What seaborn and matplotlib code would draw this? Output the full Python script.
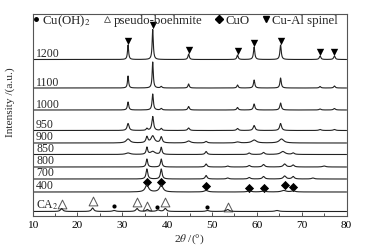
import numpy as np
import pandas as pd
import matplotlib
matplotlib.use("Agg")
import matplotlib.pyplot as plt
from matplotlib.lines import Line2D
import seaborn as sns

# ---- data (offsets / heights in arbitrary intensity units) ----
samples = ["CA$_2$", "400", "700", "800", "850", "900", "950", "1000", "1100", "1200"]
offsets = [4.5, 24, 37, 49, 61.5, 73, 85.5, 106, 128, 156.5]

# peak tables: (2theta, height, fwhm)
peaks = {
    "CA$_2$": [(16.5, 3, 0.6), (23.4, 3.5, 0.6), (28.2, 1, 0.8), (33.3, 3, 0.6), (35.6, 2, 0.6),
               (38.0, 1.5, 0.8), (39.6, 3, 0.6), (49.0, 1, 0.8), (53.5, 2, 0.8), (64.5, 1, 1.0)],
    "400": [(35.5, 7, 0.9), (38.7, 7, 0.9), (48.7, 1.5, 1.0), (58.3, 1, 1.0), (61.5, 1, 1.0),
            (66.0, 1.5, 1.2), (68.1, 1, 1.0)],
    "700": [(35.5, 10, 0.45), (38.7, 10, 0.45), (48.7, 3.5, 0.5), (53.5, 1, 0.6), (58.3, 1.5, 0.6),
            (61.5, 2.5, 0.6), (66.2, 3, 0.7), (68.1, 2.5, 0.6), (72.5, 1, 0.7)],
    "800": [(35.5, 8, 0.4), (38.7, 8, 0.4), (48.7, 3, 0.5), (53.5, 1, 0.6), (58.3, 1.5, 0.6),
            (61.5, 2.5, 0.6), (66.2, 3, 0.7), (68.1, 2, 0.6), (75.0, 1, 0.8)],
    "850": [(31.3, 1.5, 1.2), (35.5, 7, 0.4), (36.8, 3, 1.2), (38.7, 7, 0.4), (48.7, 3, 0.5),
            (58.3, 1.5, 0.6), (61.5, 2, 0.6), (65.8, 3, 1.2), (68.1, 1.5, 0.6)],
    "900": [(31.3, 4, 1.0), (35.5, 6, 0.5), (36.8, 7, 0.9), (38.7, 6, 0.5), (44.8, 2, 1.0),
            (48.7, 1.5, 0.6), (55.7, 1, 1.0), (59.4, 3, 1.2), (65.5, 4, 1.2)],
    "950": [(31.3, 7, 0.5), (35.5, 2, 0.4), (36.8, 14, 0.45), (38.7, 2, 0.4), (44.8, 2.5, 0.5),
            (55.7, 2, 0.5), (59.4, 5, 0.5), (65.3, 7, 0.5), (74.1, 1, 0.6), (77.3, 1, 0.6)],
    "1000": [(31.3, 8, 0.35), (36.8, 16, 0.35), (38.7, 1.5, 0.4), (44.8, 3.5, 0.4), (55.7, 2.5, 0.4),
             (59.4, 6, 0.4), (65.3, 7, 0.4), (74.1, 1, 0.5), (77.3, 1.5, 0.5)],
    "1100": [(31.3, 12, 0.3), (36.8, 26, 0.3), (38.7, 1.5, 0.4), (44.8, 4, 0.35), (55.7, 3, 0.35),
             (59.4, 8, 0.35), (65.3, 10, 0.35), (74.1, 1.5, 0.4), (77.3, 2, 0.4)],
    "1200": [(31.3, 14.5, 0.3), (36.8, 30, 0.3), (44.8, 5.5, 0.35), (55.7, 4.5, 0.35),
             (59.4, 12.5, 0.35), (65.3, 14.5, 0.35), (74.1, 3.5, 0.4), (77.3, 3.5, 0.4)],
}

# phase markers (2theta, marker height)
cuoh2_x = [28.2, 37.8, 49.0]
cuoh2_y = [10, 9, 9]
boehmite_x = [16.5, 23.4, 33.3, 35.6, 39.6, 53.5]
boehmite_y = [12, 15, 14, 10, 14, 9]
cuo_x = [35.5, 38.7, 48.7, 58.3, 61.5, 66.2, 68.1]
cuo_y = [34, 34, 30, 28, 28, 31, 29]
spinel_x = [31.3, 36.8, 44.8, 55.7, 59.4, 65.3, 74.1, 77.3]
spinel_y = [175, 191, 166, 165, 173, 175, 164, 164]

# ---- build curves (Lorentzian peak profiles on a fine 2theta grid) ----
grid = np.linspace(10, 80, 2801)
rows = []
for name, off in zip(samples, offsets):
    y = np.full_like(grid, off)
    for c, h, w in peaks[name]:
        y += h / (1 + ((grid - c) / (w / 2)) ** 2)
    rows.append(pd.DataFrame({"two_theta": grid, "intensity": y, "sample": name}))
df = pd.concat(rows, ignore_index=True)

sns.set_style("ticks")
plt.rcParams["font.family"] = ["Liberation Serif", "DejaVu Serif"]
plt.rcParams["mathtext.fontset"] = "stix"
fs = 8.5

fig = plt.figure(figsize=(3.66, 2.53), dpi=100)
ax = fig.add_axes([0.0888, 0.1423, 0.858, 0.7984])

sns.lineplot(data=df, x="two_theta", y="intensity", units="sample", estimator=None,
             color="#222222", lw=0.8, ax=ax, legend=False)

sns.scatterplot(x=cuoh2_x, y=cuoh2_y, marker="o", s=9, color="black", linewidth=0, ax=ax)
sns.scatterplot(x=boehmite_x, y=boehmite_y, marker="^", s=40, facecolor="white",
                edgecolor="#555555", linewidth=0.7, ax=ax)
sns.scatterplot(x=cuo_x, y=cuo_y, marker="D", s=22, color="black", linewidth=0, ax=ax)
sns.scatterplot(x=spinel_x, y=spinel_y, marker="v", s=28, color="black", linewidth=0, ax=ax)

for name, off in zip(samples, offsets):
    ax.text(10.8, off + 0.5, name, fontsize=fs, ha="left", va="bottom")

handles = [
    Line2D([], [], ls="", marker="o", ms=2.5, color="black"),
    Line2D([], [], ls="", marker="^", ms=5, mfc="white", mec="#555555", mew=0.6),
    Line2D([], [], ls="", marker="D", ms=3.8, color="black"),
    Line2D([], [], ls="", marker="v", ms=4.8, color="black"),
]
ax.legend(handles, ["Cu(OH)$_2$", "pseudo-boehmite", "CuO", "Cu-Al spinel"], ncol=4,
          loc="upper left", bbox_to_anchor=(-0.036, 1.065), frameon=False, fontsize=9.3,
          handlelength=0.45, handletextpad=0.25, columnspacing=1.08)

ax.set_xlim(10, 80)
ax.set_ylim(0, 202)
ax.set_xticks(range(10, 81, 10))
ax.set_xticks(range(15, 80, 10), minor=True)
ax.set_yticks([])
ax.tick_params(axis="x", which="major", direction="in", length=3, width=0.6,
               labelsize=8.2, pad=3, colors="#333333", labelcolor="black")
ax.tick_params(axis="x", which="minor", direction="in", length=2, width=0.6, colors="#333333")
for sp in ax.spines.values():
    sp.set_linewidth(0.8)
    sp.set_color("#555555")
ax.set_xlabel(r"2$\theta$ /(°)", fontsize=8.2, labelpad=2)
ax.set_ylabel("Intensity /(a.u.)", fontsize=8.2)
ax.yaxis.set_label_coords(-0.055, 0.57)

fig.savefig("out.png", dpi=100)
